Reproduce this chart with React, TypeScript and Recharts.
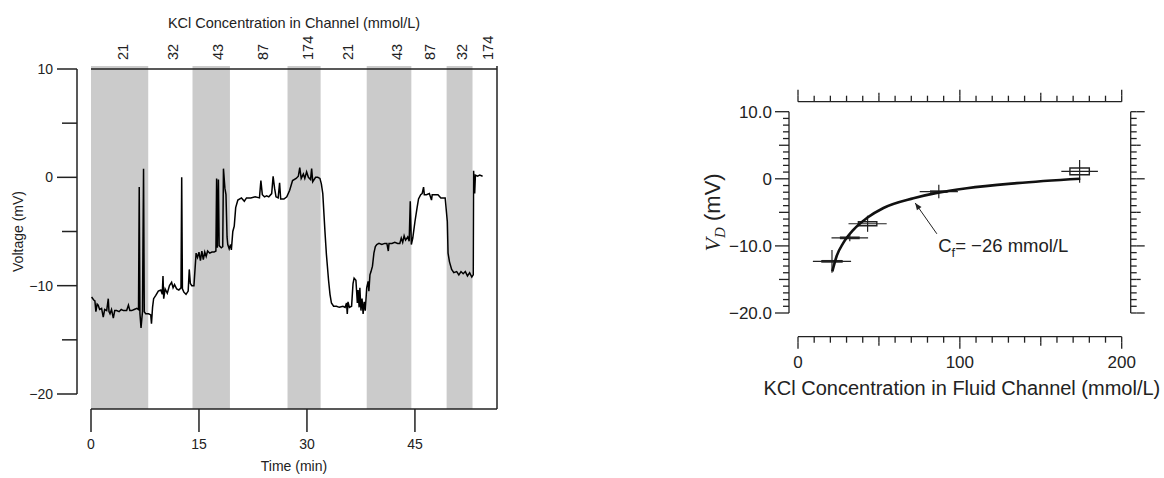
import React from 'react';
import {
  ComposedChart,
  Line,
  XAxis,
  YAxis,
  ReferenceArea,
  ReferenceLine,
  ReferenceDot,
  Scatter,
  ErrorBar,
} from 'recharts';

const FONT = '"Liberation Sans", Arial, Helvetica, sans-serif';
const SERIF = '"Liberation Serif", "Times New Roman", serif';
const INK = '#222';

// ---- left panel: recorded voltage vs time ----
const timeMin = [
  0.08, 0.35, 0.54, 0.68, 0.85, 1.0, 1.2, 1.47, 1.7, 1.9, 2.18, 2.4, 2.5, 2.64, 2.85, 3.1, 3.3, 3.56, 3.9, 4.2,
  4.5, 4.8, 4.95, 5.2, 5.4, 5.65, 6.0, 6.37, 6.6, 6.7, 6.8, 6.95, 7.15, 7.3, 7.4, 7.6, 8.0, 8.3, 8.4, 8.55,
  8.7, 9.0, 9.35, 9.7, 9.9, 10.0, 10.1, 10.3, 10.6, 10.9, 11.2, 11.4, 11.6, 11.9, 12.2, 12.5, 12.6, 12.7, 12.9, 13.2,
  13.5, 13.65, 13.8, 14.0, 14.3, 14.6, 14.8, 15.0, 15.2, 15.4, 15.6, 15.8, 16.0, 16.2, 16.5, 16.8, 17.1, 17.35, 17.45, 17.55,
  17.7, 17.8, 18.1, 18.3, 18.4, 18.6, 18.75, 18.9, 19.0, 19.2, 19.4, 19.5, 19.7, 19.9, 20.1, 20.4, 20.9, 21.3, 21.6, 22.2,
  22.8, 23.4, 23.6, 23.8, 24.1, 24.4, 24.7, 25.1, 25.3, 25.5, 25.7, 26.0, 26.2, 26.35, 26.8, 27.2, 27.6, 28.0, 28.5, 28.8,
  29.0, 29.2, 29.5, 29.7, 29.95, 30.2, 30.5, 30.65, 30.8, 31.2, 31.5, 31.8, 32.0, 32.2, 32.5, 32.7, 33.0, 33.2, 33.4, 33.7,
  34.1, 34.5, 35.0, 35.3, 35.5, 35.6, 35.7, 35.9, 36.2, 36.4, 36.55, 36.8, 37.0, 37.1, 37.25, 37.35, 37.5, 37.65, 37.8, 37.95,
  38.1, 38.3, 38.5, 38.6, 38.75, 38.9, 39.1, 39.3, 39.5, 39.7, 40.0, 40.4, 40.8, 41.1, 41.3, 41.4, 41.8, 42.2, 42.6, 42.9,
  43.1, 43.3, 43.5, 43.7, 44.0, 44.2, 44.35, 44.5, 44.7, 45.0, 45.3, 45.5, 45.8, 46.0, 46.2, 46.3, 46.6, 47.0, 47.3, 47.4,
  47.8, 48.2, 48.6, 49.2, 49.5, 49.6, 49.8, 50.1, 50.4, 50.8, 51.1, 51.4, 51.7, 52.0, 52.3, 52.6, 52.9, 53.1, 53.15, 53.3,
  53.4, 53.7, 54.0, 54.4,
];
const voltage = [
  -11.05, -11.3, -11.4, -12.4, -11.7, -11.8, -12.2, -12.1, -12.9, -12.2, -12.3, -11.2, -12.4, -12.6, -12.2, -13.0, -12.3, -12.3, -12.4, -12.2,
  -12.3, -12.3, -12.3, -11.8, -12.3, -12.3, -12.2, -12.1, -12.2, -0.9, -12.6, -13.9, -12.4, 0.8, -12.4, -12.6, -12.6, -12.7, -13.5, -12.0,
  -11.2, -10.9, -10.5, -10.4, -10.8, -9.1, -11.2, -10.3, -10.7, -10.0, -9.7, -10.2, -9.9, -10.3, -10.4, -10.2, 0.0, -10.3, -10.6, -10.8,
  -10.5, -8.5, -9.8, -10.0, -10.0, -7.0, -7.4, -6.9, -7.7, -6.8, -7.6, -6.9, -7.3, -6.8, -7.0, -6.9, -6.9, -6.8, -0.1, -6.5,
  -0.2, -6.3, -6.5, -6.4, 0.8, -1.0, -1.6, -5.5, -6.2, -6.6, -6.2, -6.7, -5.0, -4.5, -2.8, -2.1, -1.9, -2.2, -1.9, -1.9,
  -1.8, -1.9, -0.3, -1.6, -1.8, -1.7, -1.8, -1.5, 0.1, -1.0, -1.8, -1.9, -0.5, -2.0, -2.0, -1.8, -1.2, -0.3, -0.1, 0.1,
  0.9, -0.1, 0.3, -0.1, 0.5, 0.0, -0.2, 0.8, -0.4, 0.0, 0.0, -0.1, -0.6, -1.5, -5.0, -7.1, -9.5, -10.8, -11.6, -11.9,
  -11.9, -12.0, -11.9, -12.0, -11.6, -12.6, -11.5, -12.0, -11.9, -9.8, -9.3, -9.5, -11.6, -10.4, -12.0, -10.2, -12.3, -11.2, -12.6, -11.5,
  -12.3, -10.2, -9.6, -10.5, -9.0, -8.7, -8.2, -7.0, -6.4, -6.2, -6.1, -6.2, -6.1, -6.1, -6.8, -6.1, -6.1, -6.0, -6.1, -6.1,
  -5.6, -6.0, -5.4, -5.8, -5.5, -5.9, -2.2, -6.2, -5.6, -4.1, -2.8, -2.0, -1.6, -1.5, -0.9, -1.6, -1.6, -1.5, -2.1, -1.6,
  -1.6, -1.6, -1.9, -1.9, -4.1, -7.0, -7.8, -8.5, -8.8, -8.7, -9.0, -8.7, -8.9, -8.7, -9.1, -8.8, -9.2, -9.0, 0.6, -1.5,
  0.2, 0.1, 0.2, 0.1,
];
const bandStart = [0, 14.1, 27.3, 38.3, 49.4];
const bandEnd = [7.95, 19.3, 31.9, 44.5, 53.0];
const concTickTime = [4.4, 11.4, 17.6, 23.9, 30.1, 35.7, 42.5, 47.1, 51.5, 55.1];
const concTickLabel = ['21', '32', '43', '87', '174', '21', '43', '87', '32', '174'];
const timeTicks = [0, 15, 30, 45];
const voltTicks = [-20, -15, -10, -5, 0, 5, 10];
const T_MAX = 56.4;
const FRAME_LOW = -21.38;
const FRAME_HIGH = 10.28;

// ---- right panel: potential vs KCl concentration ----
const fitConc = [21.2, 23.9, 28.0, 34.2, 42.5, 52.8, 71.3, 85.8, 104.3, 135.2, 174.4];
const fitVolt = [-13.8, -11.5, -9.55, -7.6, -5.85, -4.35, -2.9, -2.1, -1.4, -0.65, 0];
const measConc = [21, 32, 43, 87, 174];
const measVolt = [-12.3, -8.8, -6.7, -1.9, 1.1];
const concErr = [11.8, 11.3, 11.8, 11.8, 11.3];
const voltErr = [1.7, 0.5, 1.2, 1.0, 1.7];
const boxHalfConc = [6.2, 5.7, 5.7, 5, 6];
const boxHalfVolt = [0.1, 0.1, 0.3, 0.08, 0.5];
const arrowFrom = { x: 85.8, y: -8.2 };
const arrowTo = { x: 72.4, y: -3.6 };
const noteAt = { x: 86.6, y: -10.0 };

const minus = (v: number, digits = 0) => {
  const s = Math.abs(v).toFixed(v === 0 ? 0 : digits);
  return v < 0 ? '\u2212' + s : s;
};

function VoltTick(props: any) {
  const { x, y, payload } = props;
  const major = payload.value % 10 === 0;
  if (!major) return <g />;
  return (
    <g>
      <line x1={x - 5} x2={x} y1={y} y2={y} stroke={INK} strokeWidth={1.5} />
      <text x={x - 9} y={y} dy="0.35em" textAnchor="end" fontSize={14} fontFamily={FONT} fill={INK}>
        {minus(payload.value)}
      </text>
    </g>
  );
}

function TimeTick(props: any) {
  const { x, y, payload } = props;
  return (
    <text x={x} y={y + 17} textAnchor="middle" fontSize={14} fontFamily={FONT} fill={INK}>
      {payload.value}
    </text>
  );
}

function ConcTick(props: any) {
  const { x, y, payload } = props;
  const i = concTickTime.indexOf(payload.value);
  return (
    <text
      transform={`translate(${x},${y}) rotate(-90)`}
      dy="0.35em"
      textAnchor="start"
      fontSize={14.5}
      fontFamily={FONT}
      fill={INK}
    >
      {concTickLabel[i]}
    </text>
  );
}

function TracePanel() {
  const data = timeMin.map((t, i) => ({ t, v: voltage[i] }));
  return (
    <ComposedChart width={520} height={478} data={data} margin={{ top: 30, right: 23, bottom: 0, left: 4 }}>
      <XAxis xAxisId="pad" type="number" domain={[0, 1]} height={15} axisLine={false} tickLine={false} tick={false} />
      <XAxis
        xAxisId="x"
        dataKey="t"
        type="number"
        domain={[0, T_MAX]}
        allowDataOverflow
        ticks={timeTicks}
        interval={0}
        height={69}
        stroke={INK}
        strokeWidth={1.5}
        tickSize={23}
        tickMargin={0}
        tick={TimeTick}
        label={{
          content: (p: any) => (
            <text
              x={p.viewBox.x + p.viewBox.width / 2}
              y={p.viewBox.y + 62}
              textAnchor="middle"
              fontSize={14}
              fontFamily={FONT}
              fill={INK}
            >
              Time (min)
            </text>
          ),
        }}
      />
      <XAxis xAxisId="padTop" orientation="top" type="number" domain={[0, 1]} height={3} axisLine={false} tickLine={false} tick={false} />
      <XAxis
        xAxisId="conc"
        orientation="top"
        dataKey="t"
        type="number"
        domain={[0, T_MAX]}
        allowDataOverflow
        ticks={concTickTime}
        interval={0}
        height={36}
        stroke={INK}
        strokeWidth={1.5}
        tickLine={false}
        tickSize={0}
        tickMargin={9}
        tick={ConcTick}
        label={{
          content: (p: any) => (
            <text
              x={p.viewBox.x + p.viewBox.width / 2}
              y={p.viewBox.y - 5}
              textAnchor="middle"
              fontSize={14.5}
              fontFamily={FONT}
              fill={INK}
            >
              KCl Concentration in Channel (mmol/L)
            </text>
          ),
        }}
      />
      <YAxis yAxisId="pad" type="number" domain={[0, 1]} width={14} axisLine={false} tickLine={false} tick={false} />
      <YAxis
        yAxisId="y"
        type="number"
        domain={[-20, 10]}
        allowDataOverflow
        ticks={voltTicks}
        interval={0}
        width={73}
        stroke={INK}
        strokeWidth={1.5}
        tickSize={15}
        tickMargin={0}
        tick={VoltTick}
        label={{
          content: (p: any) => {
            const cx = p.viewBox.x + 14;
            const cy = p.viewBox.y + p.viewBox.height / 2;
            return (
              <text
                transform={`translate(${cx},${cy}) rotate(-90)`}
                dy="0.35em"
                textAnchor="middle"
                fontSize={14}
                fontFamily={FONT}
                fill={INK}
              >
                Voltage (mV)
              </text>
            );
          },
        }}
      />
      {bandStart.map((s, i) => (
        <ReferenceArea
          key={i}
          xAxisId="x"
          yAxisId="y"
          x1={s}
          x2={bandEnd[i]}
          y1={FRAME_LOW}
          y2={FRAME_HIGH}
          fill="#cbcbcb"
          fillOpacity={1}
          stroke="none"
          ifOverflow="visible"
        />
      ))}
      <ReferenceLine
        xAxisId="x"
        yAxisId="y"
        segment={[
          { x: T_MAX, y: FRAME_LOW },
          { x: T_MAX, y: FRAME_HIGH },
        ]}
        stroke={INK}
        strokeWidth={1.5}
        ifOverflow="visible"
      />
      <Line
        xAxisId="x"
        yAxisId="y"
        dataKey="v"
        type="linear"
        stroke="#000"
        strokeWidth={1.5}
        dot={false}
        isAnimationActive={false}
      />
    </ComposedChart>
  );
}

// tick helpers for the framed fit panel
const tickLen = (v: number, step: number) => (v % (step * 10) === 0 ? 'major' : v % (step * 5) === 0 ? 'mid' : 'minor');

function LeftFitTick(props: any) {
  const { x, y, payload } = props;
  const kind = tickLen(payload.value, 1);
  const ext = kind === 'major' ? 8 : kind === 'mid' ? 4 : 0;
  return (
    <g>
      {ext > 0 && <line x1={x - ext} x2={x} y1={y} y2={y} stroke={INK} strokeWidth={1.3} />}
      {kind === 'major' && (
        <text x={x - ext - 3} y={y} dy="0.35em" textAnchor="end" fontSize={17} fontFamily={FONT} fill={INK}>
          {minus(payload.value, 1)}
        </text>
      )}
    </g>
  );
}

function RightFitTick(props: any) {
  const { x, y, payload } = props;
  const kind = tickLen(payload.value, 1);
  const ext = kind === 'major' ? 8 : kind === 'mid' ? 4 : 0;
  return ext > 0 ? <line x1={x} x2={x + ext} y1={y} y2={y} stroke={INK} strokeWidth={1.3} /> : <g />;
}

function TopFitTick(props: any) {
  const { x, y, payload } = props;
  const kind = tickLen(payload.value, 10);
  const ext = kind === 'major' ? 6 : kind === 'mid' ? 3 : 0;
  return ext > 0 ? <line x1={x} x2={x} y1={y - ext} y2={y} stroke={INK} strokeWidth={1.3} /> : <g />;
}

function BottomFitTick(props: any) {
  const { x, y, payload } = props;
  const kind = tickLen(payload.value, 10);
  const ext = kind === 'major' ? 6 : kind === 'mid' ? 3 : 0;
  return (
    <g>
      {ext > 0 && <line x1={x} x2={x} y1={y} y2={y + ext} stroke={INK} strokeWidth={1.3} />}
      {kind === 'major' && (
        <text x={x} y={y + 25} textAnchor="middle" fontSize={17} fontFamily={FONT} fill={INK}>
          {payload.value}
        </text>
      )}
    </g>
  );
}

const concTicks: number[] = [];
for (let c = 0; c <= 200; c += 10) concTicks.push(c);
const mvTicks: number[] = [];
for (let v = -20; v <= 10; v += 1) mvTicks.push(v);

function FitPanel() {
  const fit = fitConc.map((c, i) => ({ c, v: fitVolt[i] }));
  const meas = measConc.map((c, i) => ({ c, v: measVolt[i], ec: concErr[i], ev: voltErr[i] }));
  const axisStyle = { stroke: INK, strokeWidth: 1.3 };
  return (
    <ComposedChart width={464} height={360} data={fit} margin={{ top: 21.7, right: 0, bottom: 0, left: 30 }}>
      <defs>
        <marker id="arrowHead" viewBox="0 0 10 10" refX="10" refY="5" markerWidth="9" markerHeight="7" orient="auto" markerUnits="userSpaceOnUse">
          <path d="M0,1 L10,5 L0,9 Z" fill={INK} />
        </marker>
      </defs>
      <XAxis xAxisId="pad" type="number" domain={[0, 1]} height={23.7} axisLine={false} tickLine={false} tick={false} />
      <XAxis
        xAxisId="x"
        dataKey="c"
        type="number"
        domain={[0, 200]}
        allowDataOverflow
        ticks={concTicks}
        interval={0}
        height={83.3}
        {...axisStyle}
        tickSize={6}
        tickMargin={0}
        tick={BottomFitTick}
        label={{
          content: (p: any) => (
            <text
              x={p.viewBox.x + p.viewBox.width / 2 + 2}
              y={p.viewBox.y + 58}
              textAnchor="middle"
              fontSize={20}
              fontFamily={FONT}
              fill={INK}
            >
              KCl Concentration in Fluid Channel (mmol/L)
            </text>
          ),
        }}
      />
      <XAxis xAxisId="padTop" orientation="top" type="number" domain={[0, 1]} height={10} axisLine={false} tickLine={false} tick={false} />
      <XAxis
        xAxisId="top"
        orientation="top"
        dataKey="c"
        type="number"
        domain={[0, 200]}
        allowDataOverflow
        ticks={concTicks}
        interval={0}
        height={20}
        {...axisStyle}
        tickSize={6}
        tickMargin={0}
        tick={TopFitTick}
      />
      <YAxis yAxisId="pad" type="number" domain={[0, 1]} width={9} axisLine={false} tickLine={false} tick={false} />
      <YAxis
        yAxisId="y"
        dataKey="v"
        type="number"
        domain={[-20, 10]}
        allowDataOverflow
        ticks={mvTicks}
        interval={0}
        width={59}
        {...axisStyle}
        tickSize={6}
        tickMargin={0}
        tick={LeftFitTick}
        label={{
          content: (p: any) => {
            const cx = p.viewBox.x - 18;
            const cy = p.viewBox.y + p.viewBox.height / 2;
            return (
              <text
                transform={`translate(${cx},${cy}) rotate(-90)`}
                dy="0.35em"
                textAnchor="middle"
                fontSize={22}
                fontFamily={FONT}
                fill={INK}
              >
                <tspan fontFamily={SERIF} fontStyle="italic">V</tspan>
                <tspan fontFamily={SERIF} fontStyle="italic" fontSize={15} dy={5}>D</tspan>
                <tspan dy={-5}> (mV)</tspan>
              </text>
            );
          },
        }}
      />
      <YAxis yAxisId="padR" orientation="right" type="number" domain={[0, 1]} width={9} axisLine={false} tickLine={false} tick={false} />
      <YAxis
        yAxisId="yr"
        orientation="right"
        dataKey="v"
        type="number"
        domain={[-20, 10]}
        allowDataOverflow
        ticks={mvTicks}
        interval={0}
        width={33.3}
        {...axisStyle}
        tickSize={6}
        tickMargin={0}
        tick={RightFitTick}
      />
      {measConc.map((c, i) => (
        <ReferenceArea
          key={i}
          xAxisId="x"
          yAxisId="y"
          x1={c - boxHalfConc[i]}
          x2={c + boxHalfConc[i]}
          y1={measVolt[i] - boxHalfVolt[i]}
          y2={measVolt[i] + boxHalfVolt[i]}
          fill="#fff"
          fillOpacity={0}
          stroke={INK}
          strokeWidth={1.4}
          strokeOpacity={1}
        />
      ))}
      <Scatter
        xAxisId="x"
        yAxisId="y"
        data={meas}
        dataKey="v"
        shape={() => <g />}
        isAnimationActive={false}
      >
        <ErrorBar dataKey="ec" direction="x" width={0} stroke={INK} strokeWidth={1.2} isAnimationActive={false} />
        <ErrorBar dataKey="ev" direction="y" width={0} stroke={INK} strokeWidth={1.2} isAnimationActive={false} />
      </Scatter>
      <Line
        xAxisId="x"
        yAxisId="y"
        dataKey="v"
        type="monotone"
        stroke="#111"
        strokeWidth={2.6}
        dot={false}
        isAnimationActive={false}
      />
      <ReferenceLine
        xAxisId="x"
        yAxisId="y"
        segment={[arrowFrom, arrowTo]}
        stroke={INK}
        strokeWidth={1}
        shape={(p: any) => (
          <line x1={p.x1} y1={p.y1} x2={p.x2} y2={p.y2} stroke={INK} strokeWidth={1} markerEnd="url(#arrowHead)" />
        )}
      />
      <ReferenceDot
        xAxisId="x"
        yAxisId="y"
        x={noteAt.x}
        y={noteAt.y}
        r={0}
        shape={(p: any) => (
          <text x={p.cx} y={p.cy} dy="0.35em" fontSize={18.5} fontFamily={FONT} fill={INK}>
            C<tspan fontSize={13} dy={5}>f</tspan>
            <tspan dy={-5}>= {'\u2212'}26 mmol/L</tspan>
          </text>
        )}
      />
    </ComposedChart>
  );
}

export default function App() {
  return (
    <div style={{ position: 'absolute', left: 0, top: 0, width: 1164, height: 478, background: '#fff', overflow: 'hidden' }}>
      <div style={{ position: 'absolute', left: 0, top: 0 }}>
        <TracePanel />
      </div>
      <div style={{ position: 'absolute', left: 700, top: 60 }}>
        <FitPanel />
      </div>
    </div>
  );
}
